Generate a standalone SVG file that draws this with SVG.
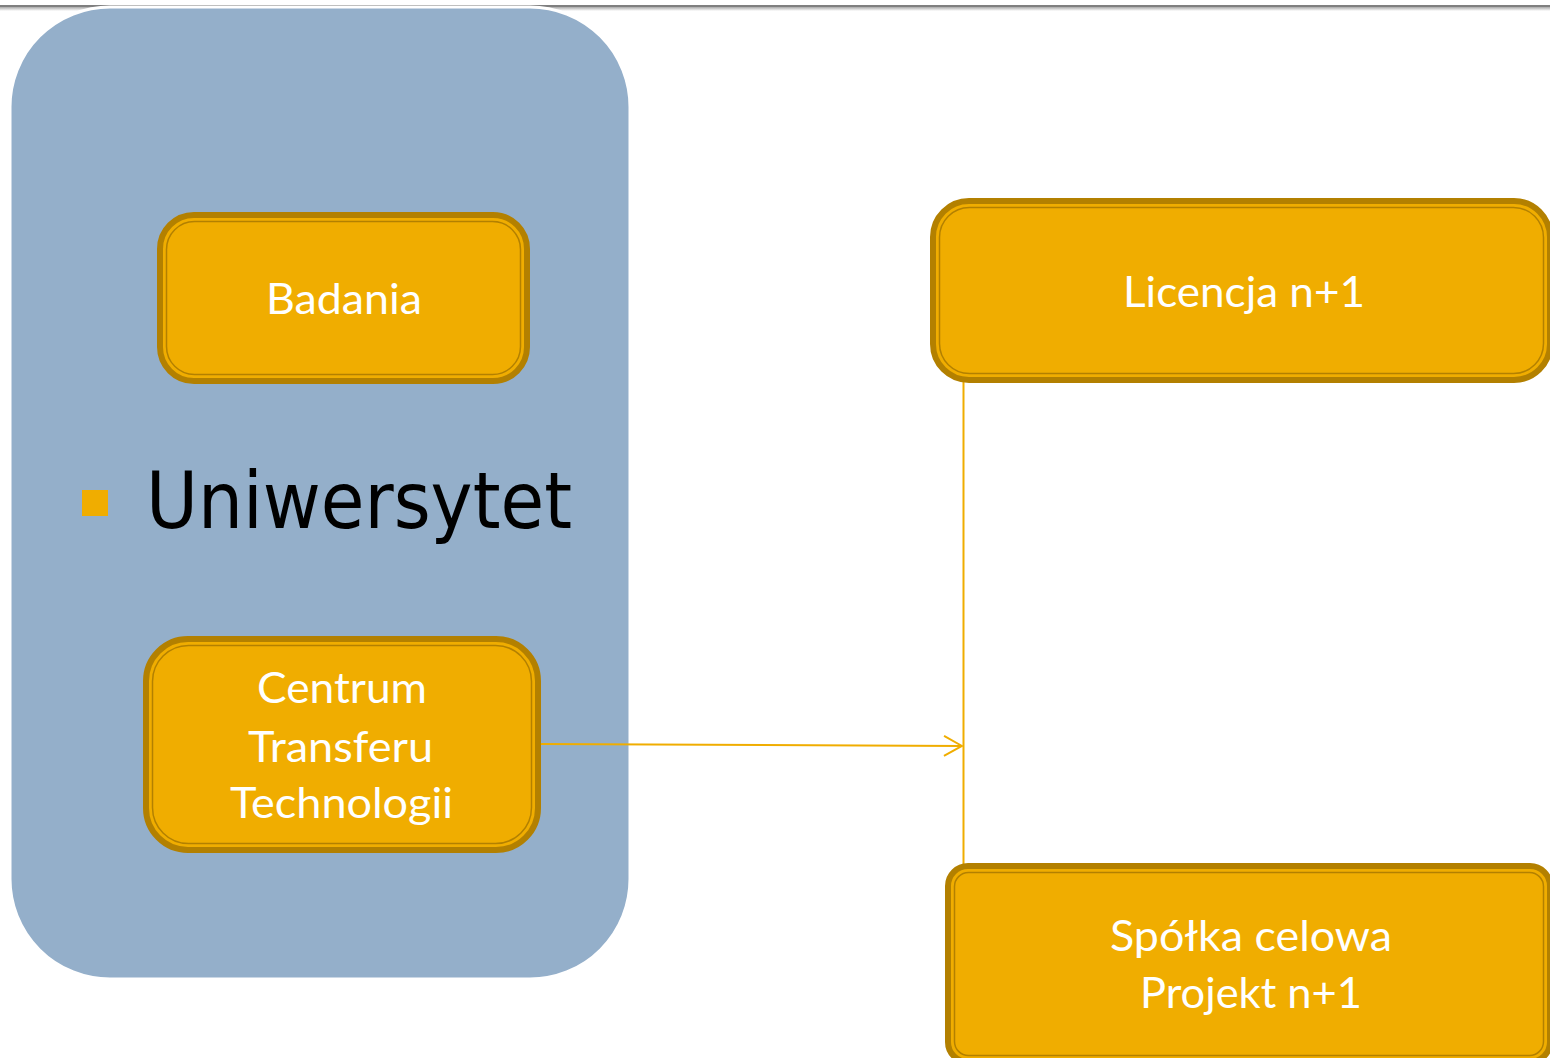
<svg xmlns="http://www.w3.org/2000/svg" width="1550" height="1058" viewBox="0 0 1550 1058">
  <defs>
    <linearGradient id="topShade" x1="0" y1="0" x2="0" y2="1">
      <stop offset="0" stop-color="#a9a9a9"/>
      <stop offset="1" stop-color="#ffffff"/>
    </linearGradient>
    <marker id="openArrow" viewBox="0 0 20 22" refX="19" refY="11" markerWidth="20" markerHeight="22" markerUnits="userSpaceOnUse" orient="auto">
      <path d="M1,1 L19,11 L1,21" fill="none" stroke="#F0AD00" stroke-width="2"/>
    </marker>
  </defs>
  <style>
    .box { fill: #F0AD00; stroke: #B38000; stroke-width: 6; }
    .inner { fill: none; stroke: #B38000; stroke-width: 1.5; }
    .lbl { font-family: Lato, "Open Sans", "Liberation Sans", sans-serif; font-size: 42px; fill: #FFFFFF; }
    .conn { fill: none; stroke: #F0AD00; stroke-width: 2; }
  </style>
  <rect x="0" y="0" width="1550" height="1058" fill="#FFFFFF"/>
  <g id="top-rule">
    <rect x="0" y="5" width="1550" height="2" fill="#7f7f7f"/>
    <rect x="0" y="7" width="1550" height="4" fill="url(#topShade)"/>
  </g>
  <g id="uniwersytet">
    <rect x="10" y="7" width="620" height="972" rx="100" ry="100" fill="#94AFCA" stroke="#FFFFFF" stroke-width="3"/>
    <rect x="82" y="490" width="26" height="26" fill="#F0AD00"/>
    <text x="146" y="528" font-family="'DejaVu Sans', Verdana, sans-serif" font-size="78" fill="#000000" textLength="426" lengthAdjust="spacingAndGlyphs">Uniwersytet</text>
  </g>
  <g id="connectors">
    <line class="conn" x1="963.5" y1="380" x2="963.5" y2="866"/>
    <line class="conn" x1="539" y1="744" x2="962" y2="746" marker-end="url(#openArrow)"/>
  </g>
  <g id="badania">
    <rect class="box" x="160" y="215" width="367" height="166" rx="34"/>
    <rect class="inner" x="166.5" y="221.5" width="354" height="153" rx="28"/>
    <text class="lbl" x="266" y="314" textLength="156" lengthAdjust="spacingAndGlyphs">Badania</text>
  </g>
  <g id="centrum">
    <rect class="box" x="146" y="639" width="392" height="211" rx="42"/>
    <rect class="inner" x="152.5" y="645.5" width="379" height="198" rx="36"/>
    <text class="lbl" x="257" y="703" textLength="170" lengthAdjust="spacingAndGlyphs">Centrum</text>
    <text class="lbl" x="248" y="762" textLength="185" lengthAdjust="spacingAndGlyphs">Transferu</text>
    <text class="lbl" x="230" y="818" textLength="223" lengthAdjust="spacingAndGlyphs">Technologii</text>
  </g>
  <g id="licencja">
    <rect class="box" x="933" y="201" width="617" height="179" rx="36"/>
    <rect class="inner" x="939.5" y="207.5" width="604" height="166" rx="30"/>
    <text class="lbl" x="1123" y="307" textLength="242" lengthAdjust="spacingAndGlyphs">Licencja n+1</text>
  </g>
  <g id="spolka">
    <rect class="box" x="948" y="866" width="602" height="196" rx="20"/>
    <rect class="inner" x="954.5" y="872.5" width="589" height="183" rx="14"/>
    <text class="lbl" x="1110" y="951" textLength="282" lengthAdjust="spacingAndGlyphs">Spółka celowa</text>
    <text class="lbl" x="1140" y="1008" textLength="222" lengthAdjust="spacingAndGlyphs">Projekt n+1</text>
  </g>
</svg>
